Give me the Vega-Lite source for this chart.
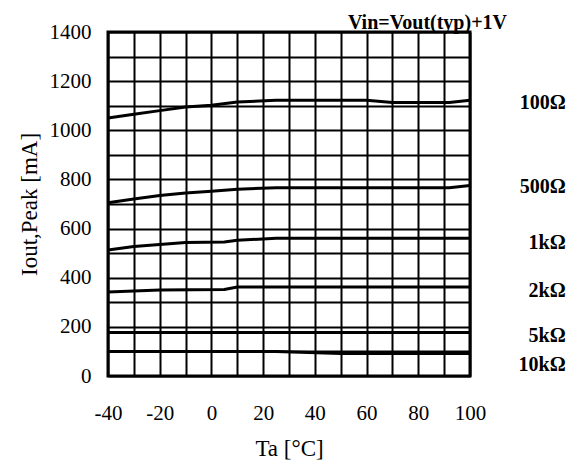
{
  "$schema": "https://vega.github.io/schema/vega-lite/v6.json",
  "width": 362,
  "height": 344,
  "autosize": {"type": "none"},
  "padding": {"left": 108, "top": 32, "right": 107, "bottom": 88},
  "background": "white",
  "config": {
    "view": {"stroke": "black", "strokeWidth": 3},
    "font": "Liberation Serif",
    "axis": {
      "grid": true,
      "gridColor": "black",
      "gridWidth": 2,
      "gridOpacity": 1,
      "domain": false,
      "ticks": false,
      "labelFlush": false,
      "labelOverlap": false,
      "labelFont": "Liberation Serif",
      "labelFontSize": 21,
      "labelColor": "black",
      "titleFont": "Liberation Serif",
      "titleFontSize": 23,
      "titleFontWeight": "normal",
      "titleColor": "black"
    }
  },
  "title": {
    "text": "Vin=Vout(typ)+1V",
    "anchor": "end",
    "frame": "group",
    "dx": 37,
    "offset": -12,
    "font": "Liberation Serif",
    "fontSize": 20,
    "fontWeight": "bold",
    "color": "black"
  },
  "datasets": {
    "curves": [
      {"series": "100Ω", "ta": -40, "iout": 1050},
      {"series": "100Ω", "ta": -30, "iout": 1065},
      {"series": "100Ω", "ta": -20, "iout": 1080},
      {"series": "100Ω", "ta": -10, "iout": 1095},
      {"series": "100Ω", "ta": 0, "iout": 1102},
      {"series": "100Ω", "ta": 10, "iout": 1115},
      {"series": "100Ω", "ta": 25, "iout": 1122},
      {"series": "100Ω", "ta": 60, "iout": 1122},
      {"series": "100Ω", "ta": 70, "iout": 1113},
      {"series": "100Ω", "ta": 92, "iout": 1113},
      {"series": "100Ω", "ta": 100, "iout": 1122},
      {"series": "500Ω", "ta": -40, "iout": 705},
      {"series": "500Ω", "ta": -30, "iout": 720},
      {"series": "500Ω", "ta": -20, "iout": 735},
      {"series": "500Ω", "ta": -10, "iout": 745},
      {"series": "500Ω", "ta": 0, "iout": 752},
      {"series": "500Ω", "ta": 10, "iout": 760},
      {"series": "500Ω", "ta": 25, "iout": 766},
      {"series": "500Ω", "ta": 92, "iout": 766},
      {"series": "500Ω", "ta": 100, "iout": 775},
      {"series": "1kΩ", "ta": -40, "iout": 513},
      {"series": "1kΩ", "ta": -30, "iout": 527},
      {"series": "1kΩ", "ta": -20, "iout": 535},
      {"series": "1kΩ", "ta": -10, "iout": 543},
      {"series": "1kΩ", "ta": 5, "iout": 545},
      {"series": "1kΩ", "ta": 10, "iout": 552},
      {"series": "1kΩ", "ta": 25, "iout": 561},
      {"series": "1kΩ", "ta": 100, "iout": 561},
      {"series": "2kΩ", "ta": -40, "iout": 342},
      {"series": "2kΩ", "ta": -20, "iout": 350},
      {"series": "2kΩ", "ta": 5, "iout": 352},
      {"series": "2kΩ", "ta": 10, "iout": 362},
      {"series": "2kΩ", "ta": 100, "iout": 362},
      {"series": "5kΩ", "ta": -40, "iout": 177},
      {"series": "5kΩ", "ta": 100, "iout": 177},
      {"series": "10kΩ", "ta": -40, "iout": 100},
      {"series": "10kΩ", "ta": 25, "iout": 100},
      {"series": "10kΩ", "ta": 50, "iout": 92},
      {"series": "10kΩ", "ta": 100, "iout": 92}
    ],
    "labels": [
      {"label": "100Ω", "lx": 137, "ly": 1113},
      {"label": "500Ω", "lx": 137, "ly": 770},
      {"label": "1kΩ", "lx": 137, "ly": 542},
      {"label": "2kΩ", "lx": 137, "ly": 344},
      {"label": "5kΩ", "lx": 137, "ly": 164},
      {"label": "10kΩ", "lx": 137, "ly": 46}
    ]
  },
  "layer": [
    {
      "data": {"name": "curves"},
      "mark": {"type": "line", "color": "black", "strokeWidth": 3, "interpolate": "linear"},
      "encoding": {
        "x": {
          "field": "ta",
          "type": "quantitative",
          "scale": {"domain": [-40, 100], "nice": false, "zero": false},
          "axis": {
            "values": [-40, -30, -20, -10, 0, 10, 20, 30, 40, 50, 60, 70, 80, 90, 100],
            "labelExpr": "datum.value % 20 == 0 ? toString(datum.value) : ''",
            "labelPadding": 26,
            "title": "Ta [°C]",
            "titlePadding": 14
          }
        },
        "y": {
          "field": "iout",
          "type": "quantitative",
          "scale": {"domain": [0, 1400], "nice": false},
          "axis": {
            "values": [0, 100, 200, 300, 400, 500, 600, 700, 800, 900, 1000, 1100, 1200, 1300, 1400],
            "labelExpr": "datum.value % 200 == 0 ? toString(datum.value) : ''",
            "labelPadding": 17,
            "title": "Iout,Peak [mA]",
            "titlePadding": 8
          }
        },
        "detail": {"field": "series"}
      }
    },
    {
      "data": {"name": "labels"},
      "mark": {"type": "text", "align": "right", "baseline": "middle", "font": "Liberation Serif", "fontSize": 20, "fontWeight": "bold", "color": "black"},
      "encoding": {
        "x": {
          "field": "lx",
          "type": "quantitative",
          "scale": {"domain": [-40, 100], "nice": false, "zero": false},
          "axis": {
            "values": [-40, -30, -20, -10, 0, 10, 20, 30, 40, 50, 60, 70, 80, 90, 100],
            "labelExpr": "datum.value % 20 == 0 ? toString(datum.value) : ''",
            "labelPadding": 26,
            "title": "Ta [°C]",
            "titlePadding": 14
          }
        },
        "y": {
          "field": "ly",
          "type": "quantitative",
          "scale": {"domain": [0, 1400], "nice": false},
          "axis": {
            "values": [0, 100, 200, 300, 400, 500, 600, 700, 800, 900, 1000, 1100, 1200, 1300, 1400],
            "labelExpr": "datum.value % 200 == 0 ? toString(datum.value) : ''",
            "labelPadding": 17,
            "title": "Iout,Peak [mA]",
            "titlePadding": 8
          }
        },
        "text": {"field": "label"}
      }
    }
  ]
}
